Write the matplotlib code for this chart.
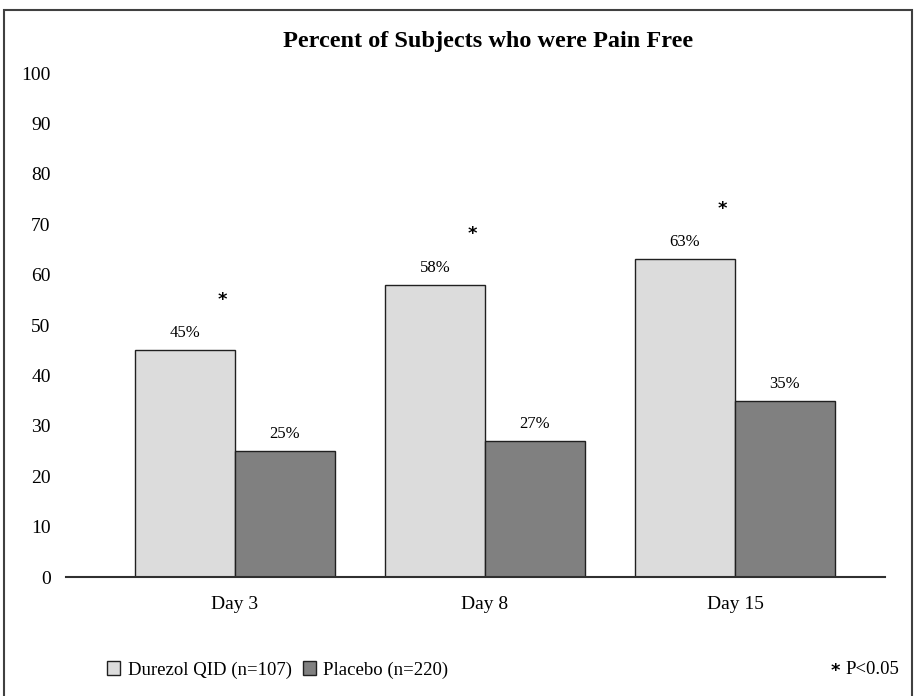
import numpy as np
import matplotlib
matplotlib.use('Agg')
import matplotlib.pyplot as plt
from matplotlib.patches import Rectangle

# Data
days = ['Day 3', 'Day 8', 'Day 15']
durezol = [45, 58, 63]
placebo = [25, 27, 35]
significant = [True, True, True]

plt.rcParams['font.family'] = ['Liberation Serif', 'DejaVu Serif']

fig = plt.figure(figsize=(9.15, 6.96), dpi=100)
ax = fig.add_axes([66 / 915, 1 - 577 / 696, (885 - 66) / 915, (577 - 73) / 696])

x = np.arange(len(days))
w = 0.4
light = '#dcdcdc'
dark = '#808080'
edge = '#202020'

ax.bar(x - w / 2, durezol, w, color=light, edgecolor=edge, linewidth=1)
ax.bar(x + w / 2, placebo, w, color=dark, edgecolor=edge, linewidth=1)

for xi, v in zip(x - w / 2, durezol):
    ax.text(xi, v + 1.8, f'{v}%', ha='center', va='bottom', fontsize=12)
for xi, v in zip(x + w / 2, placebo):
    ax.text(xi, v + 1.8, f'{v}%', ha='center', va='bottom', fontsize=12)

# significance markers
for xi, v, s in zip(x, durezol, significant):
    if s:
        ax.text(xi - 0.052, v + 10, '*', ha='center', va='center', fontsize=13,
                family='DejaVu Sans', fontweight='bold')

ax.set_xlim(-0.676, 2.6)
ax.set_ylim(0, 100)
ax.set_yticks(range(0, 101, 10))
ax.set_xticks(x)
ax.set_xticklabels(days)
ax.tick_params(axis='y', length=0, pad=11, labelsize=14)
ax.tick_params(axis='x', length=0, pad=14, labelsize=14)
for s in ['top', 'right', 'left']:
    ax.spines[s].set_visible(False)
ax.spines['bottom'].set_color('#303030')
ax.spines['bottom'].set_linewidth(1.5)

fig.text(488 / 915, 1 - 42 / 696, 'Percent of Subjects who were Pain Free', ha='center',
         va='center', fontsize=17.5, fontweight='bold')

# legend
handles = [Rectangle((0, 0), 1, 1, facecolor=light, edgecolor=edge),
           Rectangle((0, 0), 1, 1, facecolor=dark, edgecolor=edge)]
fig.legend(handles, ['Durezol QID (n=107)', 'Placebo (n=220)'],
           loc='center left', bbox_to_anchor=(90 / 915, 1 - 670 / 696),
           ncol=2, frameon=False, fontsize=13.5, handlelength=0.7,
           handleheight=0.7, handletextpad=0.4, columnspacing=0.6)
fig.text(835 / 915, 1 - 671 / 696, '*', ha='center', va='center', fontsize=13,
         family='DejaVu Sans', fontweight='bold')
fig.text(845 / 915, 1 - 670 / 696, 'P<0.05', ha='left', va='center', fontsize=13.5)

# outer frame
fig.patches.append(Rectangle((4 / 915, -0.02), 908 / 915, 1 - 10 / 696 + 0.02,
                             transform=fig.transFigure, fill=False,
                             edgecolor='#404040', linewidth=1.5))

fig.savefig('out.png', dpi=100)
